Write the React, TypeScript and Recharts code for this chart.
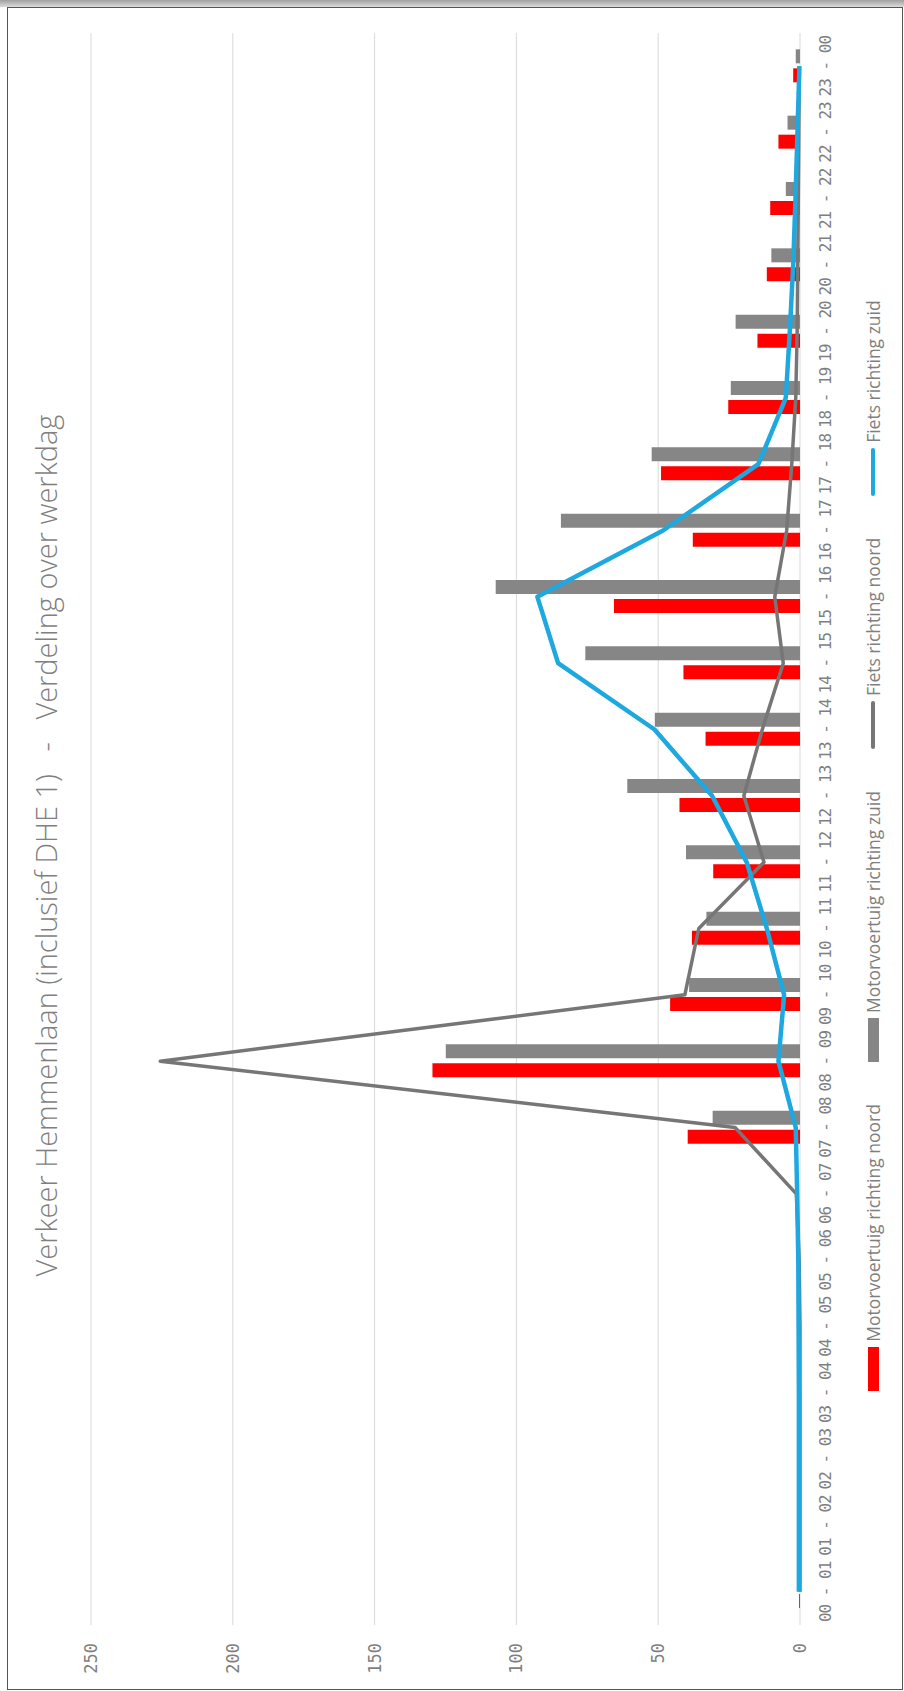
import React from 'react';
import { ComposedChart, Bar, Line, XAxis, YAxis, CartesianGrid, Legend } from 'recharts';

const hours = [
  '00 - 01', '01 - 02', '02 - 03', '03 - 04', '04 - 05', '05 - 06',
  '06 - 07', '07 - 08', '08 - 09', '09 - 10', '10 - 11', '11 - 12',
  '12 - 13', '13 - 14', '14 - 15', '15 - 16', '16 - 17', '17 - 18',
  '18 - 19', '19 - 20', '20 - 21', '21 - 22', '22 - 23', '23 - 00',
];

const motorNoord = [0.3, 0, 0, 0, 0, 0, 0, 39.6, 129.6, 45.8, 38.1, 30.6, 42.5, 33.3, 41.1, 65.6, 37.8, 49, 25.3, 15, 11.7, 10.5, 7.6, 2.4];
const motorZuid = [0, 0, 0, 0, 0, 0, 0, 30.8, 124.9, 39.1, 33, 40.2, 60.9, 51.2, 75.7, 107.3, 84.3, 52.3, 24.4, 22.7, 10.1, 5, 4.4, 1.5];
const fietsNoord = [0, 0, 0, 0, 0, 0.3, 1.3, 22.9, 225.6, 40.6, 35.7, 12.7, 19.8, 13.3, 5.9, 8.9, 4.7, 2.9, 1.5, 1, 0.8, 0.6, 0.4, 0.3];
const fietsZuid = [0.4, 0.4, 0.4, 0.4, 0.5, 0.6, 1, 1.5, 7.6, 5.6, 11.7, 18.8, 31, 51.3, 85.3, 92.6, 48.3, 14.7, 5, 3.6, 2.4, 1.6, 0.9, 0.2];

const valueTicks = [0, 50, 100, 150, 200, 250];

const title = 'Verkeer Hemmenlaan (inclusief DHE 1)   -   Verdeling over werkdag';

const seriesKeys = ['motorNoord', 'motorZuid', 'fietsNoord', 'fietsZuid'];
const seriesNames = [
  'Motorvoertuig richting noord',
  'Motorvoertuig richting zuid',
  'Fiets richting noord',
  'Fiets richting zuid',
];
const seriesColors = ['#ff0000', '#868686', '#767676', '#1ea8e0'];
const seriesTypes = ['bar', 'bar', 'line', 'line'];

const data = hours.map((hour, i) => ({
  hour,
  motorNoord: motorNoord[i],
  motorZuid: motorZuid[i],
  fietsNoord: fietsNoord[i],
  fietsZuid: fietsZuid[i],
}));

const W = 1691;
const H = 904;
const TEXT_GRAY = '#7f7f7f';
const MONO = '"DejaVu Sans Mono", "Liberation Mono", monospace';
const SANS = '"Open Sans", "Noto Sans", sans-serif';

const renderLegend = () => (
  <div
    style={{
      display: 'flex',
      justifyContent: 'center',
      alignItems: 'center',
      height: 26,
      fontFamily: SANS,
      fontSize: 17.5,
      color: TEXT_GRAY,
      whiteSpace: 'nowrap',
    }}
  >
    {seriesKeys.map((k, i) => (
      <div key={k} style={{ display: 'flex', alignItems: 'center', marginLeft: i === 0 ? 0 : 42 }}>
        {seriesTypes[i] === 'bar' ? (
          <div style={{ width: 44, height: 11, background: seriesColors[i] }} />
        ) : (
          <div style={{ width: 48, height: 3.5, background: seriesColors[i], borderRadius: 2 }} />
        )}
        <span style={{ marginLeft: 5, lineHeight: '26px' }}>{seriesNames[i]}</span>
      </div>
    ))}
  </div>
);

export default function App() {
  return (
    <div
      style={{
        position: 'absolute',
        left: 0,
        top: 0,
        width: 904,
        height: 1691,
        overflow: 'hidden',
        background: '#ffffff',
      }}
    >
      <div
        style={{
          position: 'absolute',
          left: 0,
          top: 0,
          width: W,
          height: H,
          transformOrigin: '0 0',
          transform: `translateY(${W}px) rotate(-90deg)`,
        }}
      >
        <div
          style={{
            position: 'absolute',
            left: 0,
            top: 31,
            width: W,
            textAlign: 'center',
            fontFamily: SANS,
            fontWeight: 300,
            fontSize: 29,
            lineHeight: '30px',
            color: TEXT_GRAY,
            whiteSpace: 'pre',
          }}
        >
          {title}
        </div>
        <ComposedChart
          width={W}
          height={H}
          data={data}
          margin={{ top: 91, right: 33, left: 0, bottom: 0 }}
          barGap={5}
        >
          <CartesianGrid vertical={false} stroke="#d9d9d9" strokeWidth={1} />
          <XAxis
            dataKey="hour"
            axisLine={false}
            tickLine={false}
            tickSize={0}
            tickMargin={20}
            interval={0}
            height={104}
            tick={{ fill: TEXT_GRAY, fontSize: 16, fontFamily: MONO, letterSpacing: -1 }}
          />
          <YAxis
            type="number"
            domain={[0, 250]}
            ticks={valueTicks}
            interval={0}
            axisLine={false}
            tickLine={false}
            tickSize={0}
            tickMargin={18}
            width={66}
            tick={{ fill: TEXT_GRAY, fontSize: 17, fontFamily: MONO }}
          />
          <Bar dataKey="motorNoord" name={seriesNames[0]} fill={seriesColors[0]} barSize={14} isAnimationActive={false} />
          <Bar dataKey="motorZuid" name={seriesNames[1]} fill={seriesColors[1]} barSize={14} isAnimationActive={false} />
          <Line
            type="linear"
            dataKey="fietsNoord"
            name={seriesNames[2]}
            stroke={seriesColors[2]}
            strokeWidth={3.5}
            dot={false}
            activeDot={false}
            strokeLinejoin="round"
            isAnimationActive={false}
          />
          <Line
            type="linear"
            dataKey="fietsZuid"
            name={seriesNames[3]}
            stroke={seriesColors[3]}
            strokeWidth={4.5}
            dot={false}
            activeDot={false}
            strokeLinejoin="round"
            isAnimationActive={false}
          />
          <Legend
            layout="horizontal"
            verticalAlign="middle"
            align="center"
            content={renderLegend}
            wrapperStyle={{ top: 860, left: 0, width: W, height: 26 }}
          />
        </ComposedChart>
      </div>
      <div
        style={{
          position: 'absolute',
          left: 0,
          top: 0,
          width: 904,
          height: 7,
          background: 'linear-gradient(#a0a0a0, #dcdcdc)',
        }}
      />
      <div
        style={{
          position: 'absolute',
          left: 7,
          top: 7,
          width: 896,
          height: 1683,
          border: '1.5px solid #555555',
          boxSizing: 'border-box',
          pointerEvents: 'none',
        }}
      />
    </div>
  );
}
